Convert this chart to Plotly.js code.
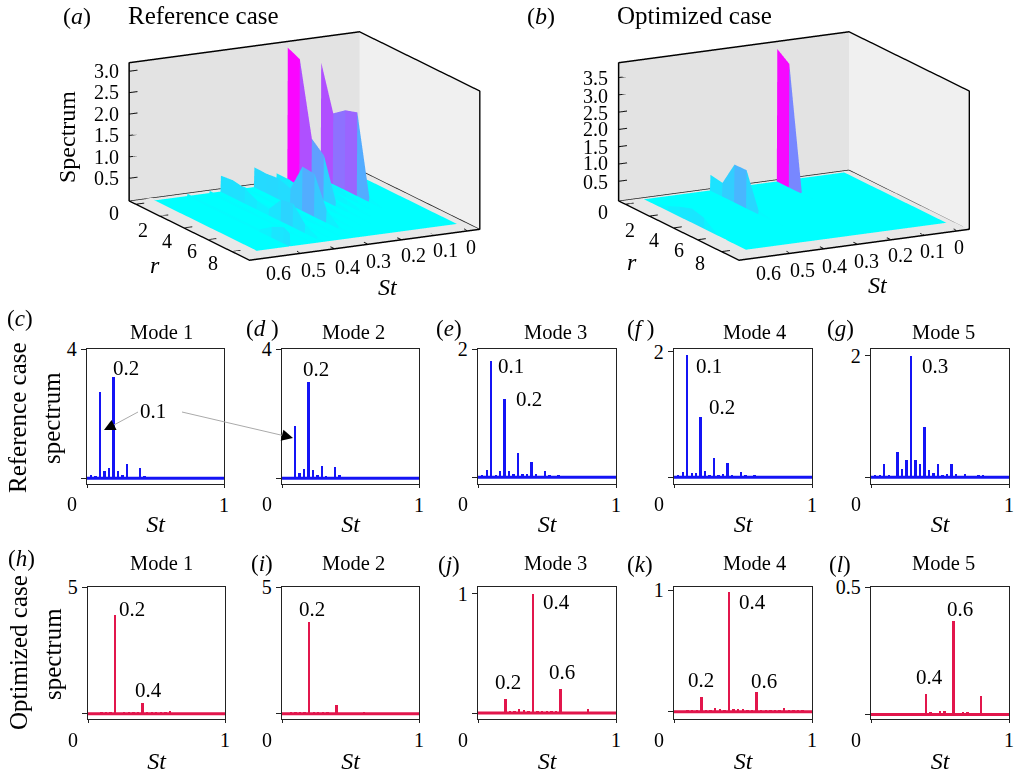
<!DOCTYPE html>
<html><head><meta charset="utf-8">
<script src="https://cdn.plot.ly/plotly-3.0.1.min.js"></script>
<style>html,body{margin:0;padding:0;background:#fff}#g{width:1017px;height:775px}</style>
</head><body><div id="g"></div>
<script>
// --- small spectra (St bins) ---
const stRef=[0,.0325,.065,.0975,.13,.1625,.195,.2275,.26,.2925,.325,.3575,.39,.4225,.455,.4875,.52,.5525,.585,.6175,.65,.6825,.715,.7475,.78,.8125,.845,.8775,.91,.9425,.975];
const stOpt=[0,.0333,.0667,.1,.1333,.1667,.2,.2333,.2667,.3,.3333,.3667,.4,.4333,.4667,.5,.5333,.5667,.6,.6333,.6667,.7,.7333,.7667,.8,.8333,.8667,.9,.9333,.9667,1];
const specC=[.02,.09,.08,2.68,.23,.32,3.13,.23,.09,.43,.05,.05,.33,.08,.03,.05,.03,.02,.03,.02,.02,.03,.02,.02,.02,.02,.02,.02,.02,.02,.02];
const specD=[.01,.02,.05,1.61,.17,.27,2.99,.25,.09,.38,.06,.05,.35,.1,.03,.04,.03,.03,.03,.03,.02,.03,.03,.02,.02,.02,.02,.02,.02,.02,.02];
const specE=[.01,.03,.11,1.81,.04,.1,1.22,.1,.05,.38,.05,.05,.24,.05,.02,.09,.03,.01,.04,.02,.02,.02,.02,.01,.01,.01,.01,.01,.01,.01,.01];
const specF=[.01,.04,.085,1.94,.07,.07,.96,.1,.03,.3,.04,.05,.23,.04,.02,.085,.03,.02,.04,.02,.02,.02,.02,.01,.01,.01,.01,.01,.01,.01,.01];
const specG=[.01,.03,.03,.21,.03,.01,.42,.14,.29,1.99,.28,.21,.83,.115,.07,.21,.04,.06,.225,.06,.02,.055,.02,.02,.04,.03,.02,.02,.02,.01,.01];
const specH=[.01,.01,.02,.03,.03,.03,3.9,.02,.03,.03,.03,.03,.42,.03,.03,.03,.03,.03,.09,.02,.02,.02,.02,.01,.01,.01,.01,.01,.01,.01,.01];
const specI=[.01,.02,.03,.03,.03,.03,3.6,.03,.03,.03,.03,.02,.34,.02,.02,.02,.02,.02,.07,.02,.01,.01,.01,.01,.01,.01,.01,.01,.01,.01,.01];
const specJ=[.005,.005,.005,.01,.01,.01,.12,.015,.015,.03,.025,.015,1.0,.02,.015,.015,.015,.015,.2,.01,.01,.01,.01,.01,.035,.01,.01,.01,.01,.005,.005];
const specK=[.005,.005,.005,.01,.01,.01,.125,.015,.015,.03,.025,.015,.985,.02,.02,.02,.015,.015,.16,.01,.01,.01,.01,.01,.03,.01,.01,.01,.01,.005,.005];
const specL=[.002,.002,.003,.003,.003,.004,.004,.005,.005,.005,.006,.005,.08,.01,.005,.014,.012,.006,.366,.005,.01,.008,.006,.005,.073,.006,.006,.005,.005,.004,.004];

// --- 3D panels: one row of St-bin heights per radial station ---
const st3d=[0,.0333,.0667,.1,.1333,.1667,.2,.2333,.2667,.3,.3333,.3667,.4,.4333,.4667,.5,.5333,.5667,.6];
const r3d=[0,1,2,3,4,5,6,7,8,8.5];
const refR0=[0,0,0,2.7,.1,.1,3.15,.25,.08,.46,.05,.05,.37,.05,0,.05,0,0,.02];
const refR1=[0,0,0,1.65,.15,.15,3.02,.25,.08,.45,.05,.05,.4,.05,0,.05,0,0,.02];
const refR2=[0,0,0,1.86,.15,.15,1.3,.2,.08,.48,.05,.05,.35,.05,0,.05,0,0,.02];
const refR3=[0,0,0,1.95,.1,.15,1.05,.1,.08,.38,.05,.05,.2,.05,0,.05,0,0,.02];
const refR4=[0,0,0,.1,.05,.1,.1,.1,.08,1.03,.08,.05,.15,.04,0,.05,0,0,.03];
const refR5=[0,0,0,0,0,.05,.05,.05,.08,1.0,.08,.05,.5,.04,0,.05,0,0,.03];
const refR6=[0,0,0,0,0,0,.02,.03,.05,.3,.05,.05,.55,.04,0,.05,0,0,.03];
const refR7=[0,0,0,0,0,0,0,0,.02,.05,.03,.03,.2,.03,0,.25,0,0,.02];
const refR8=[0,0,0,0,0,0,0,0,0,.02,.02,.02,.05,.02,0,.38,0,0,.02];
const refR9=[0,0,0,0,0,0,0,0,0,0,0,0,0,0,0,.3,0,0,0];
const optR0=[0,0,0,0,0,0,3.83,0,0,0,0,0,.45,0,0,0,0,0,.02];
const optR1=[0,0,0,0,0,0,3.57,0,0,0,0,0,.39,0,0,0,0,0,.05];
const optR2=[0,0,0,0,0,0,.02,0,0,0,0,0,1.09,0,0,0,0,0,.15];
const optR3=[0,0,0,0,0,0,0,0,0,0,0,0,1.1,0,0,0,0,0,.3];
const optR4=[0,0,0,0,0,0,0,0,0,0,0,0,.1,0,0,0,0,0,.42];
const optR5=[0,0,0,0,0,0,0,0,0,0,0,0,.02,0,0,0,0,0,.33];
const optR6=[0,0,0,0,0,0,0,0,0,0,0,0,0,0,0,0,0,0,.06];
const optR7=[0,0,0,0,0,0,0,0,0,0,0,0,0,0,0,0,0,0,0];
const optR8=[0,0,0,0,0,0,0,0,0,0,0,0,0,0,0,0,0,0,0];
const optR9=[0,0,0,0,0,0,0,0,0,0,0,0,0,0,0,0,0,0,0];

// --- tick labels of the 3D panels ---
const zTicksA=['0.5','1.0','1.5','2.0','2.5','3.0'];
const zTicksB=['0.5','1.0','1.5','2.0','2.5','3.0','3.5'];
const stTicks=['0','0.1','0.2','0.3','0.4','0.5','0.6'];
const rTicks=['0','2','4','6','8'];

const W=1017,H=775,BLUE='#1414f5',RED='#e2164c',SERIF='"Liberation Serif","Times New Roman",serif';
const px=x=>x/W, py=y=>1-y/H;
const annos=[],shapes=[],traces=[],layout={};
const stRange=[-.0345,.655],rRange=[-.55,9.45];

function text(x,y,t,size,extra){annos.push(Object.assign({xref:'paper',yref:'paper',x:px(x),y:py(y),text:t,showarrow:false,xanchor:'center',yanchor:'middle',font:{family:SERIF,size:size,color:'#000'}},extra||{}));}

function mesh(rows,cmax,scene){
  const eps=.0015,X=[],F=[];
  st3d.forEach((s,k)=>{ if(k>0){X.push(s-eps);F.push([k,0]);} X.push(s);F.push([k,1]); if(k<st3d.length-1){X.push(s+eps);F.push([k,0]);} });
  const x=[],y=[],z=[],i=[],j=[],kk=[],fc=[];
  const n=X.length,m=r3d.length;
  for(let a=0;a<m;a++)for(let b=0;b<n;b++){x.push(X[b]);y.push(r3d[a]);z.push(rows[a][F[b][0]]*F[b][1]);}
  const col=v=>{const t=Math.min(1,v/cmax);return 'rgb('+Math.round(255*t)+','+Math.round(255*(1-t))+',255)';};
  for(let a=0;a<m-1;a++)for(let b=0;b<n-1;b++){
    const p=a*n+b,q=p+1,r=p+n,s=r+1;
    const v=[z[p],z[q],z[r],z[s]].sort((u,w)=>w-u);
    const c=col((v[0]+v[1])/2);
    i.push(p,q);j.push(q,s);kk.push(r,r);fc.push(c,c);
  }
  return {type:'mesh3d',scene:scene,x:x,y:y,z:z,i:i,j:j,k:kk,facecolor:fc,flatshading:true,showscale:false,hoverinfo:'x+y+z',
    lighting:{ambient:1,diffuse:0,specular:0,roughness:1,fresnel:0}};
}
function floorEdges(scene,zMin){
  return {type:'scatter3d',mode:'lines',scene:scene,x:[stRange[1],stRange[0],stRange[0]],y:[rRange[0],rRange[0],rRange[1]],z:[zMin,zMin,zMin],line:{color:'#222',width:1.5},hoverinfo:'skip',showlegend:false};
}
// short inward tick marks on the three labelled box edges
function tickMarks(scene,zMin,zLabels){
  const x=[],y=[],z=[];
  const seg=(a,b,c,d,e,f)=>{x.push(a,d,null);y.push(b,e,null);z.push(c,f,null);};
  stTicks.map(Number).forEach(s=>seg(s,rRange[1],zMin,s,rRange[1]-.35,zMin));
  rTicks.map(Number).forEach(r=>seg(stRange[1],r,zMin,stRange[1]-.025,r,zMin));
  zLabels.map(Number).forEach(v=>seg(stRange[1],rRange[0],v,stRange[1]-.025,rRange[0],v));
  return {type:'scatter3d',mode:'lines',scene:scene,x:x,y:y,z:z,connectgaps:false,line:{color:'#111',width:2},hoverinfo:'skip',showlegend:false};
}
function sceneCfg(dom,zr){
  const ax=(o)=>Object.assign({showgrid:false,zeroline:false,showspikes:false,showline:true,linecolor:'#000',linewidth:3,mirror:true,ticks:'',showticklabels:false,showbackground:true,title:{text:''}},o);
  return {domain:{x:[px(dom[0]),px(dom[1])],y:[py(292),py(0)]},
    camera:{projection:{type:'orthographic'},eye:{x:.447*4,y:.856*4,z:.257*4},up:{x:0,y:0,z:1},center:{x:0,y:0,z:0}},
    aspectmode:'manual',aspectratio:{x:1.78,y:1.78,z:.98},
    xaxis:ax({range:stRange,backgroundcolor:'#f0f0f0'}),
    yaxis:ax({range:rRange,backgroundcolor:'#e3e3e3'}),
    zaxis:ax({range:zr,backgroundcolor:'#e8e8e8'})};
}
traces.push(mesh([refR0,refR1,refR2,refR3,refR4,refR5,refR6,refR7,refR8,refR9],3.15,'scene'));
traces.push(floorEdges('scene',-.03));
traces.push(tickMarks('scene',-.03,zTicksA));
traces.push(mesh([optR0,optR1,optR2,optR3,optR4,optR5,optR6,optR7,optR8,optR9],3.83,'scene2'));
traces.push(floorEdges('scene2',-.07));
traces.push(tickMarks('scene2',-.07,zTicksB));
layout.scene=sceneCfg([40,569],[-.03,3.2]);
layout.scene2=sceneCfg([574,1014],[-.07,3.93]);

const T1=349,B1=483.5,T2=587,B2=719;
const panels=[
 [stRef,specC,BLUE,87,224,T1,B1,[-.164,4],4,'4','Mode 1',161,332],
 [stRef,specD,BLUE,282,419,T1,B1,[-.164,4],4,'4','Mode 2',353,332],
 [stRef,specE,BLUE,478,616,T1,B1,[-.098,2],2,'2','Mode 3',555,332],
 [stRef,specF,BLUE,674,812,T1,B1,[-.1,2.043],2,'2','Mode 4',754,332],
 [stRef,specG,BLUE,871,1009,T1,B1,[-.104,2.11],2,'2','Mode 5',943.5,332],
 [stOpt,specH,RED,88,225,T2,B2,[-.21,5],5,'5','Mode 1',161,563],
 [stOpt,specI,RED,282,419,T2,B2,[-.21,5],5,'5','Mode 2',353,563],
 [stOpt,specJ,RED,478,616,T2,B2,[-.05,1.056],1,'1','Mode 3',555,563],
 [stOpt,specK,RED,674,812,T2,B2,[-.06,1.027],1,'1','Mode 4',754,563],
 [stOpt,specL,RED,871,1009,T2,B2,[-.018,.5],.5,'0.5','Mode 5',943.5,563]
];
panels.forEach((p,n)=>{
  const id=n+1,xa='x'+(id===1?'':id),ya='y'+(id===1?'':id);
  traces.push({type:'bar',x:p[0],y:p[1],xaxis:xa,yaxis:ya,width:.0135,marker:{color:p[2],line:{width:0}},hoverinfo:'x+y',showlegend:false});
  traces.push({type:'scatter',mode:'lines',x:[0,1],y:[0,0],xaxis:xa,yaxis:ya,line:{color:p[2],width:3},hoverinfo:'skip',showlegend:false});
  layout['xaxis'+(id===1?'':id)]={domain:[px(p[3]),px(p[4])],anchor:ya,range:[0,1],tickvals:[0,1],ticktext:['','1'],ticks:'outside',ticklen:3,tickcolor:'#222',tickwidth:1.4,linecolor:'#222',linewidth:1.4,mirror:true,showgrid:false,zeroline:false,tickfont:{family:SERIF,size:20,color:'#000'},title:{text:'<i>St</i>',font:{family:SERIF,size:24,color:'#000'},standoff:n<5?0:1},automargin:false};
  layout['yaxis'+(id===1?'':id)]={domain:[py(p[6]),py(p[5])],anchor:xa,range:p[7],tickvals:[0,p[8]],ticktext:['',p[9]],ticks:'outside',ticklen:5,tickcolor:'#222',tickwidth:1.4,linecolor:'#222',linewidth:1.4,mirror:true,showgrid:false,zeroline:false,tickfont:{family:SERIF,size:20,color:'#000'},automargin:false};
  text(p[11],p[12],p[10],20.5);
  text(p[3]-15,p[6]+20.5,'0',20);
});

// 3D tick labels
[178,157,135,114,92,71].forEach((y,n)=>text(106,y,zTicksA[n],20));
[182,163,147,129,113,96,78].forEach((y,n)=>text(595,y,zTicksB[n],20));
[[114,213],[143,230],[167,241],[192,251],[213,263]].forEach((q,n)=>text(q[0],q[1],rTicks[n],20));
[[603,212],[630,230],[654,240],[679,250],[700,263]].forEach((q,n)=>text(q[0],q[1],rTicks[n],20));
[[471,247],[445,250],[413,255],[378,261],[347,267],[313,270],[278,273]].forEach((q,n)=>text(q[0],q[1],stTicks[n],20));
[[959,247],[932,251],[900,255],[866,261],[834,266],[802,270],[768,273]].forEach((q,n)=>text(q[0],q[1],stTicks[n],20));

[['(<i>a</i>)',77,16,24],['(<i>b</i>)',541,16,24],['(<i>c</i>)',20,318,23],['(<i>d </i>)',262,328,23],['(<i>e</i>)',449,328,23],['(<i>f </i>)',640,328,23],['(<i>g</i>)',840,328,23],
 ['(<i>h</i>)',21,558,23],['(<i>i</i>)',262,563,23],['(<i>j</i>)',449,564,23],['(<i>k</i>)',640,564,23],['(<i>l</i>)',840,564,23]].forEach(a=>text(a[1],a[2],a[0],a[3]));
text(203,16,'Reference case',25);text(694,16,'Optimized case',25);
text(67,137,'Spectrum',24,{textangle:-90});
text(18,418,'Reference case',25,{textangle:-90});text(52,418,'spectrum',25,{textangle:-90});
text(18,653,'Optimized case',25,{textangle:-90});text(52,654,'spectrum',25,{textangle:-90});
text(388,287,'<i>St</i>',24);text(878,285,'<i>St</i>',24);
text(155,265,'<i>r</i>',24);text(632,262,'<i>r</i>',24);

[['0.2',126,368],['0.1',153,411],['0.2',316,369],['0.1',511,366],['0.2',529,399],['0.1',709,366],['0.2',722,407],['0.3',935,366],
 ['0.2',132,609],['0.4',148,690],['0.2',312,609],['0.4',556,602],['0.6',562,672],['0.2',508,682],['0.4',752,602],['0.6',764,681],['0.2',701,680],['0.6',960,609],['0.4',929,677]].forEach(a=>text(a[1],a[2],a[0],21));

shapes.push({type:'line',xref:'paper',yref:'paper',x0:px(138),y0:py(412),x1:px(112),y1:py(426),line:{color:'#aaa',width:1}});
shapes.push({type:'line',xref:'paper',yref:'paper',x0:px(182),y0:py(412),x1:px(285),y1:py(436),line:{color:'#aaa',width:1}});
annos.push({xref:'paper',yref:'paper',axref:'paper',ayref:'paper',x:px(104),y:py(430),ax:px(112),ay:py(426),text:'',showarrow:true,arrowhead:2,arrowsize:1.5,arrowwidth:1.5,arrowcolor:'#000'});
annos.push({xref:'paper',yref:'paper',axref:'paper',ayref:'paper',x:px(293),y:py(438),ax:px(285),ay:py(436),text:'',showarrow:true,arrowhead:2,arrowsize:1.5,arrowwidth:1.5,arrowcolor:'#000'});

Object.assign(layout,{width:W,height:H,margin:{l:0,r:0,t:0,b:0},paper_bgcolor:'#fff',plot_bgcolor:'#fff',showlegend:false,bargap:0,annotations:annos,shapes:shapes,font:{family:SERIF}});
Plotly.newPlot('g',traces,layout,{displayModeBar:false});
</script></body></html>
